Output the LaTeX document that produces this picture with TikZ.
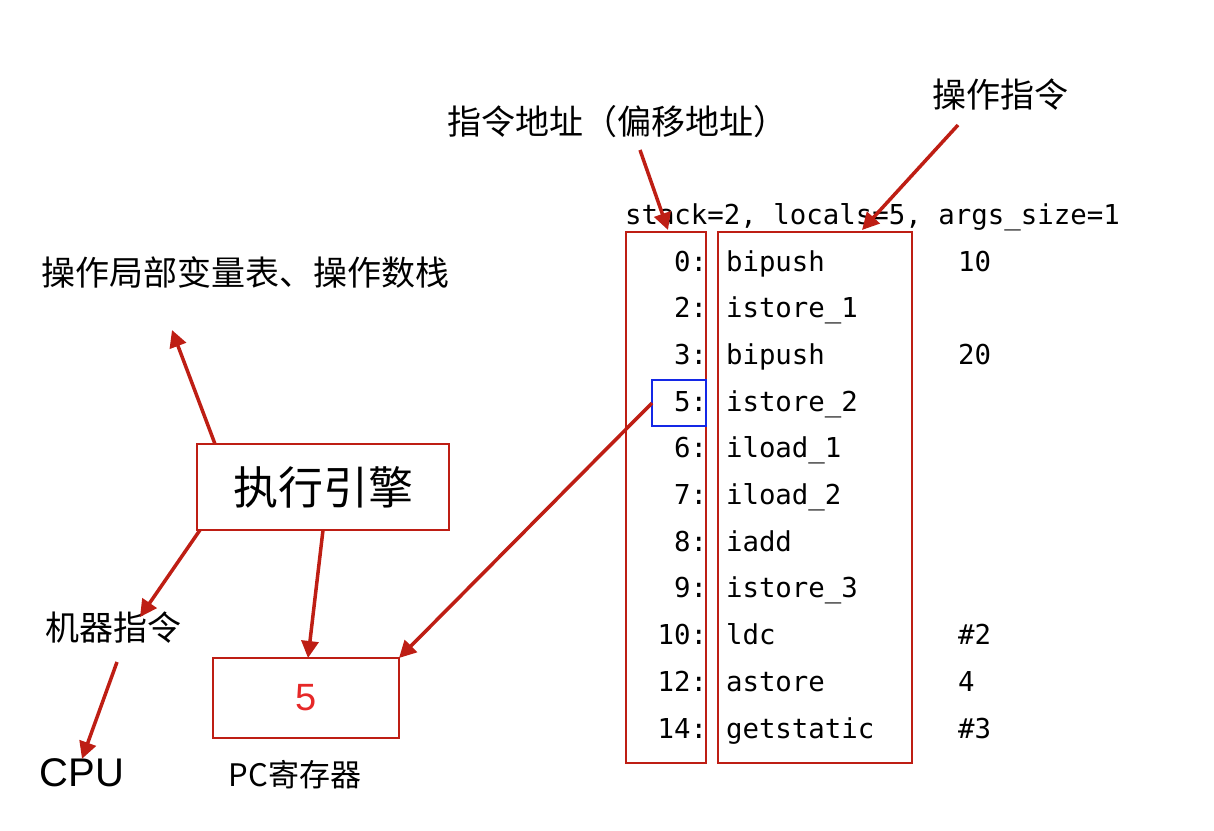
\documentclass[tikz,border=0pt]{standalone}
\usepackage{fontspec}
\setmainfont{Liberation Sans}
\setmonofont{DejaVu Sans Mono}
\newfontfamily\cjk{Noto Sans CJK SC}
\usetikzlibrary{arrows.meta,positioning}
\definecolor{cdarkred}{RGB}{190,30,20}
\definecolor{cbrightred}{RGB}{230,40,40}
\definecolor{cblue}{RGB}{20,40,230}

\tikzset{redbox/.style={draw=cdarkred,line width=2.2pt},
  redarrow/.style={draw=cdarkred,line width=3.5pt,-{Triangle[length=17pt,width=17pt]}},
  cntext/.style={font=\cjk\fontsize{34}{36}\selectfont},
  codetext/.style={font=\ttfamily\fontsize{27.4}{28}\selectfont,anchor=base west}}

\begin{document}
\begin{tikzpicture}[x=1pt,y=-1pt,inner sep=0pt,outer sep=0pt]
  \useasboundingbox (0,0) rectangle (1214,830);
  % labels
  \node[cntext] (opins) at (1000,95) {操作指令};
  \node[cntext] (addr) at (617,122) {指令地址（偏移地址）};
  \node[cntext] (locals) at (245,272) {操作局部变量表、操作数栈};
  \node[cntext] (machine) at (113,628) {机器指令};
  \node[font=\fontsize{40}{42}\selectfont] (cpu) at (82,773) {CPU};
  \node[font=\cjk\fontsize{31}{33}\selectfont] (pcname) at (295,775) {PC寄存器};
  % boxes
  \node[redbox,minimum width=252pt,minimum height=86pt,font=\cjk\fontsize{45}{47}\selectfont] (engine) at (323,487) {执行引擎};
  \node[redbox,minimum width=186pt,minimum height=80pt,font=\fontsize{38}{40}\selectfont,text=cbrightred] (pc) at (306,698) {5};
  \draw[redbox] (626,232) rectangle (706,763);
  \draw[redbox] (718,232) rectangle (912,763);
  \node[draw=cblue,line width=2pt,minimum width=54pt,minimum height=46pt] (cur) at (679,403) {};
  % code
  \node[codetext] (header) at (625,224) {stack=2, locals=5, args\_size=1};
  \foreach \off/\ins/\arg [count=\i from 0] in {0/bipush/10,2/istore\_1/,3/bipush/20,5/istore\_2/,6/iload\_1/,7/iload\_2/,8/iadd/,9/istore\_3/,10/ldc/\#2,12/astore/4,14/getstatic/\#3}{
    \node[codetext,anchor=base east] (off\i) at (707,271+46.7*\i) {\off:};
    \node[codetext] (ins\i) at (726,271+46.7*\i) {\ins};
    \node[codetext] (arg\i) at (958,271+46.7*\i) {\arg};
  }
  % arrows
  \coordinate (opinsend) at (862,230);
  \coordinate (addrend) at (668,230);
  \coordinate (localsend) at (172,330);
  \coordinate (machineend) at (140,617);
  \coordinate (cpustart) at (117,662);
  \draw[redarrow] (958,125) -- (opinsend);
  \draw[redarrow] (640,150) -- (addrend);
  \draw[redarrow] ([xshift=18pt]engine.north west) -- (localsend);
  \draw[redarrow] ([xshift=3pt]engine.south west) -- (machineend);
  \draw[redarrow] (engine.south) -- ([xshift=2pt]pc.north);
  \draw[redarrow] (cpustart) -- (cpu.north);
  \draw[redarrow] (cur.west) -- (pc.north east);
\end{tikzpicture}
\end{document}
